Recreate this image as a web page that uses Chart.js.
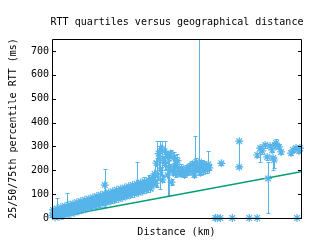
<!DOCTYPE html>
<html><head><meta charset="utf-8">
<script src="https://cdn.jsdelivr.net/npm/chart.js@4"></script>
<style>html,body{margin:0;padding:0;background:#fff;overflow:hidden}</style>
</head><body>
<canvas id="c" width="320" height="240"></canvas>
<script>
const distKm = [20,
80,240,400,560,720,880,1040,1200,1360,1520,1680,1840,2000,2160,2320,2480,2640,2800,2960,3120,3280,3440,3600,3760,3920,4080,4240,4400,4560,4720,4880,5040,5200,5360,5520,5680,5840,6000,6160,6320,6480,6640,6800,6960,7120,7280,7440,7600,7760,7920,
160,320,480,640,800,960,1120,1280,1440,1600,1760,1920,2080,2240,2400,2560,2720,2880,3040,3200,3360,3520,3680,3840,4000,4160,4320,4480,4640,4800,4960,5120,5280,5440,5600,5760,5920,6080,6240,6400,6560,6720,6880,7040,7200,7360,7520,7680,7840,8000,
4240,
8000,8080,8160,8240,8320,8400,8480,8560,8640,8720,8800,8880,8960,9040,9120,9200,9280,9360,9440,9520,9600,9680,9760,9840,9920,10000,10080,10160,10320,10400,10560,10640,10800,10880,11040,11120,11280,11360,11440,11520,11600,11680,11840,11920,12000,12080,12160,12240,12320,12400,12480,12560,12640,13600,
13120,13280,13520,14480,15840,16480,19680,
15040,15040,17360,
16480,16720,16880,17120,17280,17520,17680,17760,17840,17920,18000,18240,18400,
19200,19360,19600,19840,19920];

const rttP50 = [12,
34,3,40,4,45,8,50,13,55,18,60,23,66,28,71,33,76,39,81,44,86,49,92,54,97,59,102,65,107,70,112,75,118,80,123,85,128,91,133,96,138,101,144,106,149,111,154,117,159,122,
18,17,24,21,30,26,35,31,40,35,45,40,50,45,55,50,61,55,66,60,71,65,76,70,81,75,86,80,91,86,96,91,102,96,107,101,112,107,117,112,122,117,128,122,133,127,138,132,143,137,
138,
150,170,160,185,145,230,175,270,250,200,290,160,240,280,220,265,180,250,210,270,150,195,250,215,185,225,240,200,185,210,195,180,205,190,215,195,225,200,180,220,235,205,215,190,230,210,195,225,205,215,200,225,210,229,
0,0,0,0,0,0,0,
322,214,165,
264,293,281,306,256,302,285,251,243,306,314,298,277,
272,285,293,281,293];

const rttP25 = [8,
28,0,34,0,39,2,44,7,49,12,54,17,60,22,65,27,70,33,75,38,80,43,86,48,91,53,96,59,101,64,106,69,112,74,117,79,122,85,127,90,132,95,138,100,143,105,148,111,153,116,
13,12,19,16,25,21,30,26,35,30,40,35,45,40,50,45,56,50,61,55,66,60,71,65,76,70,81,75,86,81,91,86,97,91,102,96,107,102,112,107,117,112,123,117,128,122,133,127,138,132,
45,
142,160,150,140,135,130,160,200,120,185,180,150,220,200,205,250,92,96,195,255,140,180,230,200,170,200,225,185,175,195,185,170,190,180,200,185,210,190,170,200,220,195,200,180,215,195,185,210,195,200,190,210,200,224,
0,0,0,0,0,0,0,
214,210,21,
255,235,270,295,245,290,275,201,210,295,300,288,268,
265,278,285,274,286];

const rttP75 = [16,
40,9,84,10,51,14,56,105,61,24,66,29,72,34,77,39,82,45,87,50,92,55,98,60,103,65,108,71,113,76,118,81,124,86,129,91,134,97,139,102,144,107,235,112,155,117,160,123,180,128,
23,22,29,26,35,31,40,36,45,40,50,45,55,50,60,55,66,60,71,65,76,70,81,75,86,80,91,85,96,91,101,96,107,101,112,106,117,112,122,117,127,122,133,127,138,172,143,137,148,142,
205,
158,180,175,240,160,323,190,300,323,215,323,175,260,323,235,280,240,270,225,285,165,210,276,264,200,270,255,215,200,225,205,190,220,200,230,210,240,215,195,344,250,220,800,205,245,225,210,240,220,230,215,281,220,234,
0,0,0,0,0,0,0,
322,218,235,
272,300,290,315,265,312,295,260,250,315,331,308,286,
280,292,300,288,300];

const minLineDist = [0, 20000];
const minLineRtt = [0, 194];
const yTickValues = [0, 100, 200, 300, 400, 500, 600, 700];
const titleText = 'RTT quartiles versus geographical distance';
const xTitleText = 'Distance (km)';
const yTitleText = '25/50/75th percentile RTT (ms)';

const FONT = "'DejaVu Sans Mono', 'Liberation Mono', monospace";
const BLUE = '#56b4e9';
const GREEN = '#009e73';

const n = Math.min(distKm.length, rttP50.length, rttP25.length, rttP75.length);
const pts = [];
for (let i = 0; i < n; i++) pts.push({x: distKm[i], y: rttP50[i]});

const errorBars = {
  id: 'errorBars',
  beforeDatasetsDraw(chart) {
    const {ctx, chartArea: a, scales: {x, y}} = chart;
    ctx.save();
    ctx.beginPath();
    ctx.rect(a.left, a.top, a.right - a.left, a.bottom - a.top + 1);
    ctx.clip();
    ctx.strokeStyle = BLUE;
    ctx.lineWidth = 1;
    ctx.beginPath();
    for (let i = 0; i < n; i++) {
      if (rttP75[i] === rttP25[i]) continue;
      const px = Math.round(x.getPixelForValue(distKm[i])) + 0.5;
      const y1 = Math.round(y.getPixelForValue(rttP25[i])) + 0.5;
      const y2 = Math.round(y.getPixelForValue(rttP75[i])) + 0.5;
      ctx.moveTo(px, y1); ctx.lineTo(px, y2);
      ctx.moveTo(px - 2, y1); ctx.lineTo(px + 2, y1);
      ctx.moveTo(px - 2, y2); ctx.lineTo(px + 2, y2);
    }
    ctx.stroke();
    ctx.restore();
  }
};

const frame = {
  id: 'frame',
  afterDraw(chart) {
    const {ctx, chartArea: a, scales: {y}} = chart;
    ctx.save();
    ctx.strokeStyle = '#000';
    ctx.lineWidth = 1;
    ctx.beginPath();
    ctx.rect(a.left + 0.5, a.top + 0.5, a.right - a.left, a.bottom - a.top);
    for (const v of yTickValues) {
      const py = Math.round(y.getPixelForValue(v)) + 0.5;
      ctx.moveTo(a.left, py); ctx.lineTo(a.left + 4, py);
      ctx.moveTo(a.right + 1, py); ctx.lineTo(a.right - 3, py);
    }
    ctx.stroke();
    ctx.fillStyle = '#000';
    ctx.font = "10px " + FONT;
    ctx.textAlign = 'center';
    ctx.textBaseline = 'middle';
    ctx.fillText(titleText, (a.left + a.right) / 2 + 0.5, 22);
    ctx.restore();
  }
};

new Chart(document.getElementById('c'), {
  type: 'scatter',
  data: {
    datasets: [
      {
        data: pts,
        pointStyle: 'star',
        pointRadius: 4,
        pointBorderWidth: 1.2,
        borderColor: BLUE,
        backgroundColor: BLUE,
        showLine: false,
        clip: false
      },
      {
        type: 'line',
        data: minLineDist.map((d, i) => ({x: d, y: minLineRtt[i]})),
        borderColor: GREEN,
        borderWidth: 1.5,
        pointRadius: 0,
        fill: false
      }
    ]
  },
  options: {
    responsive: false,
    animation: false,
    devicePixelRatio: 1,
    events: [],
    layout: {padding: {left: 0, right: 19, top: 39, bottom: 0}},
    plugins: {
      legend: {display: false},
      tooltip: {enabled: false},
      title: {display: false}
    },
    scales: {
      x: {
        type: 'linear',
        min: 0,
        max: 20000,
        ticks: {display: false},
        grid: {display: false, drawTicks: false},
        border: {display: false},
        title: {
          display: true,
          text: xTitleText,
          color: '#000',
          font: {family: FONT, size: 10, lineHeight: 1.2},
          padding: {top: 0, bottom: 2}
        },
        afterFit(s) { s.height = 22; }
      },
      y: {
        type: 'linear',
        min: 0,
        max: 750,
        afterBuildTicks(s) { s.ticks = yTickValues.map(v => ({value: v})); },
        ticks: {
          color: '#000',
          font: {family: FONT, size: 10},
          padding: 3
        },
        grid: {display: false, drawTicks: false},
        border: {display: false},
        title: {
          display: true,
          text: yTitleText,
          color: '#000',
          font: {family: FONT, size: 10, lineHeight: 1.2},
          padding: {top: 7, bottom: 0}
        },
        afterFit(s) { s.width = 52; }
      }
    }
  },
  plugins: [errorBars, frame]
});
</script>
</body></html>
